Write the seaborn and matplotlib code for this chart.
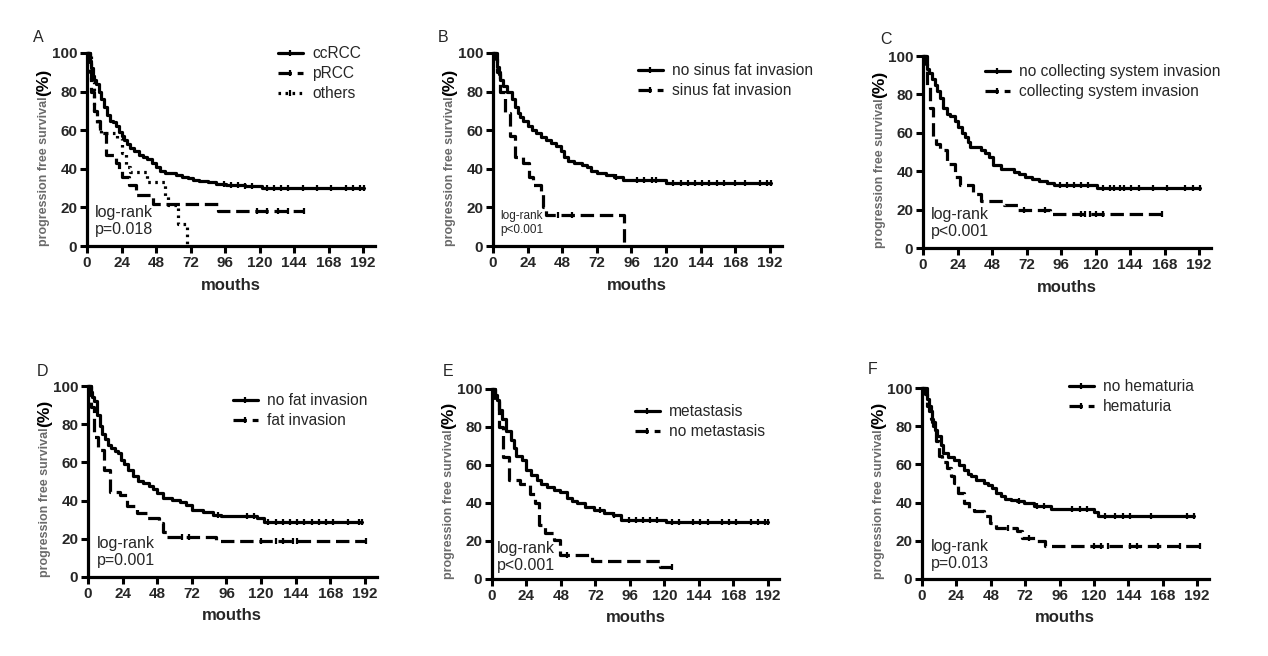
import numpy as np
import pandas as pd
import seaborn as sns
import matplotlib
matplotlib.use("Agg")
import matplotlib.pyplot as plt
from matplotlib.lines import Line2D

# Kaplan-Meier steps: time (months) where the curve drops, and the new value (%)
# panel A - histology
a_cc_t = [0, 2, 3, 4, 5, 6, 8, 10, 12, 14, 16, 18, 20, 22, 24, 26, 28, 30, 33, 36, 39, 42, 45, 48, 51, 54, 62, 66, 70, 74, 78, 84, 90, 97, 110, 122]
a_cc_s = [100, 96, 92, 88, 86, 84, 80, 76, 72, 68, 65, 64, 62, 59, 57, 55, 53, 51, 49, 47, 46, 45, 43, 41, 39, 38, 37, 36, 35, 34, 33.5, 33, 32, 31.5, 31, 30]
a_cc_end = 193
a_cc_cens = [95, 100, 105, 110, 115, 125, 130, 135, 140, 150, 160, 170, 180, 185, 190, 193]
a_p_t = [0, 2, 3, 5, 7, 9, 13, 20, 22, 24, 29, 34, 46, 91]
a_p_s = [100, 90, 80, 70, 65, 58.5, 47, 43, 40, 36, 31.5, 26.5, 22, 18]
a_p_end = 151
a_p_cens = [118, 125, 133, 140, 151]
a_o_t = [0, 3, 5, 7, 10, 21, 24, 27, 30, 42, 54, 56, 63, 69.5]
a_o_s = [100, 85, 70, 62, 58.5, 56, 48, 41, 38.5, 33, 26, 21, 11.5, 0]
a_o_end = 69.5
a_o_cens = []

# panel B - sinus fat invasion
b_no_t = [0, 2, 3, 4, 5, 7, 10, 13, 15, 17, 19, 21, 24, 27, 30, 33, 37, 40, 44, 47, 49, 52, 56, 62, 65, 68, 72, 78, 84, 90, 120]
b_no_s = [100, 97, 93, 89, 86, 83, 80, 76, 72, 69, 67, 65, 62, 60, 58.5, 56.5, 55, 53.5, 51.6, 49, 46, 44, 43, 42, 41, 39, 37.7, 37, 36, 34.3, 32.5]
b_no_end = 193
b_no_cens = [85, 100, 105, 110, 113, 125, 130, 135, 140, 145, 150, 155, 160, 168, 175, 185, 190, 193]
b_yes_t = [0, 3, 5, 8, 12, 15, 21, 25, 28, 33, 35, 37, 91]
b_yes_s = [100, 90, 80, 69, 57, 46, 43, 36, 31.7, 27, 20, 16, 0]
b_yes_end = 91
b_yes_cens = [45, 55]

# panel C - collecting system invasion
c_no_t = [0, 2, 3, 4, 6, 8, 10, 12, 14, 17, 19, 22, 24, 27, 29, 31, 33, 40, 43, 46, 49, 54, 63, 67, 71, 76, 81, 86, 91, 121]
c_no_s = [100, 96, 93, 91, 88, 85, 82, 78, 73, 70, 69, 66, 63, 60, 58, 55, 52.6, 51, 49.5, 47.4, 43, 41.3, 39.6, 38.5, 37, 36, 35, 34, 33, 31]
c_no_end = 192.5
c_no_cens = [95, 100, 105, 110, 115, 125, 130, 133, 137, 140, 145, 150, 160, 170, 182, 188, 192.5]
c_yes_t = [0, 3, 5, 7, 9, 12, 17, 22, 26, 35, 40, 56, 66, 88]
c_yes_s = [100, 84, 73, 58, 54, 51, 44, 37, 32.6, 28, 24.3, 22.2, 19.6, 17.9]
c_yes_end = 166
c_yes_cens = [70, 85, 110, 113, 116, 120, 125, 166]

# panel D - fat invasion
d_no_t = [0, 2, 3, 4, 6, 8, 10, 12, 14, 16, 19, 21, 23, 25, 28, 31, 35, 38, 42, 45, 48, 52, 58, 64, 68, 72, 80, 87, 92, 117, 122]
d_no_s = [100, 97, 94, 92, 85, 79, 75, 72, 69, 67.5, 66, 64.7, 61, 59, 56, 53, 50.5, 49, 47.5, 46, 43.8, 41.2, 40.5, 39.5, 37.5, 35, 34, 32.5, 31.7, 30.8, 29]
d_no_end = 190
d_no_cens = [90, 110, 115, 125, 130, 135, 140, 145, 150, 155, 160, 165, 170, 180, 188, 190]
d_yes_t = [0, 2, 4, 7, 11, 15, 22, 27, 34, 41, 49, 52, 55, 89]
d_yes_s = [100, 89, 73.4, 66.4, 56, 44.7, 43, 37, 33.4, 30.8, 28.2, 23.8, 21, 18.6]
d_yes_end = 193
d_yes_cens = [65, 70, 120, 130, 135, 142, 145, 193]

# panel E - metastasis
e_m_t = [0, 2, 3.5, 5, 7, 10, 13, 15, 17, 21, 24, 27, 31, 34, 38, 43, 47, 52, 56, 59, 65, 71, 78, 84, 90, 121]
e_m_s = [100, 97, 94, 89, 84, 78, 73, 69, 65, 62.6, 57.4, 54.5, 52, 50, 48.6, 47, 46, 42.5, 41, 39.8, 38, 36.3, 35, 33.7, 31, 30.2]
e_m_end = 192
e_m_cens = [75, 85, 95, 100, 105, 110, 115, 125, 130, 140, 145, 150, 160, 165, 170, 180, 185, 190, 192]
e_nm_t = [0, 2.3, 4.6, 8, 11.6, 19.7, 26.6, 30, 32.4, 37, 42.8, 47.4, 69.4, 117]
e_nm_s = [100, 94, 80, 64.4, 52, 50, 45, 39.8, 28.4, 24, 20.5, 12.6, 9.6, 6.5]
e_nm_end = 125
e_nm_cens = [52, 125]

# panel F - hematuria
f_no_t = [0, 2, 3.5, 5, 7, 9, 10.4, 13, 15, 18, 22, 26, 29, 32, 34, 38, 43, 46, 49, 52, 55, 58, 62, 66, 71, 78, 90, 120, 123]
f_no_s = [100, 97, 94, 88, 82, 78, 74.7, 70, 66, 64, 62.5, 59.5, 57.2, 55, 53.8, 52, 50.3, 49, 47.6, 45, 43.3, 42, 41.5, 41, 39.8, 38, 36.6, 34.9, 33.2]
f_no_end = 190
f_no_cens = [68, 80, 85, 105, 110, 115, 128, 135, 140, 145, 160, 185, 190]
f_yes_t = [0, 3.5, 6, 8, 10, 11.6, 14, 17.4, 20, 22, 25, 29, 33, 36, 43, 47.6, 52, 66, 69.7, 80, 86]
f_yes_s = [100, 90.4, 84, 80, 72, 64.2, 61, 58, 54, 50.3, 45, 39.8, 37, 35.4, 32.8, 29.3, 26.7, 25, 21.5, 19.7, 17.5]
f_yes_end = 194
f_yes_cens = [60, 75, 120, 125, 130, 145, 150, 165, 180, 194]

x_ticks = [0, 24, 48, 72, 96, 120, 144, 168, 192]
y_ticks = [0, 20, 40, 60, 80, 100]

SOLID = "-"
DASH = (0, (4.2, 1.8))
DOT = (0, (0.8, 1.4))

# axes boxes in pixels: left, top(y=100), width (to 200 months), height
panels = [
    dict(letter="A", lpos=(33, 38), box=(87, 53, 287.5, 193),
         curves=[(a_cc_t, a_cc_s, a_cc_end, a_cc_cens, SOLID, "ccRCC"),
                 (a_p_t, a_p_s, a_p_end, a_p_cens, DASH, "pRCC"),
                 (a_o_t, a_o_s, a_o_end, a_o_cens, DOT, "others")],
         leg=(278, 46), stat="log-rank\np=0.018", spos=(95, 221), sfs=11.5),
    dict(letter="B", lpos=(438, 38), box=(493, 53, 288.5, 193),
         curves=[(b_no_t, b_no_s, b_no_end, b_no_cens, SOLID, "no sinus fat invasion"),
                 (b_yes_t, b_yes_s, b_yes_end, b_yes_cens, DASH, "sinus fat invasion")],
         leg=(638, 63), stat="log-rank\np<0.001", spos=(500, 223), sfs=8.5),
    dict(letter="C", lpos=(880, 40), box=(923, 56, 287.5, 192),
         curves=[(c_no_t, c_no_s, c_no_end, c_no_cens, SOLID, "no collecting system invasion"),
                 (c_yes_t, c_yes_s, c_yes_end, c_yes_cens, DASH, "collecting system invasion")],
         leg=(985, 64), stat="log-rank\np<0.001", spos=(931, 223), sfs=11.5),
    dict(letter="D", lpos=(37, 372), box=(88, 386, 288.5, 191),
         curves=[(d_no_t, d_no_s, d_no_end, d_no_cens, SOLID, "no fat invasion"),
                 (d_yes_t, d_yes_s, d_yes_end, d_yes_cens, DASH, "fat invasion")],
         leg=(233, 393), stat="log-rank\np=0.001", spos=(97, 552), sfs=11.5),
    dict(letter="E", lpos=(443, 372), box=(492, 389, 287.5, 190),
         curves=[(e_m_t, e_m_s, e_m_end, e_m_cens, SOLID, "metastasis"),
                 (e_nm_t, e_nm_s, e_nm_end, e_nm_cens, DASH, "no metastasis")],
         leg=(635, 404), stat="log-rank\np<0.001", spos=(497, 557), sfs=11.5),
    dict(letter="F", lpos=(868, 370), box=(922, 388, 286.5, 191),
         curves=[(f_no_t, f_no_s, f_no_end, f_no_cens, SOLID, "no hematuria"),
                 (f_yes_t, f_yes_s, f_yes_end, f_yes_cens, DASH, "hematuria")],
         leg=(1069, 379), stat="log-rank\np=0.013", spos=(931, 555), sfs=11.5),
]

sns.set_style("ticks")
plt.rcParams["font.family"] = ["Liberation Sans", "DejaVu Sans"]

W, H = 1268, 656
fig = plt.figure(figsize=(W / 100, H / 100), dpi=100)

def fx(x):
    return x / W

def fy(y):
    return 1 - y / H

LW = 2.3

for p in panels:
    left, top, w, h = p["box"]
    ax = fig.add_axes([fx(left), fy(top + h), w / W, h / H])
    handles = []
    for ts, ss, end, cens, ls, lab in p["curves"]:
        df = pd.DataFrame({"t": list(ts) + [end], "s": list(ss) + [ss[-1]]})
        sns.lineplot(data=df, x="t", y="s", ax=ax, drawstyle="steps-post", estimator=None,
                     sort=False, color="black", lw=LW, linestyle=ls, clip_on=False)
        if cens:
            idx = np.searchsorted(ts, cens, side="right") - 1
            cy = np.array(ss)[idx]
            ax.plot(cens, cy, linestyle="none", marker="|", markersize=5, mew=1.6,
                    color="black", clip_on=False)
        handles.append(Line2D([], [], color="black", lw=LW, linestyle=ls, marker="|",
                              markersize=5, mew=1.6, label=lab))

    ax.set_xlim(0, 200)
    ax.set_ylim(0, 100)
    ax.set_xticks(x_ticks)
    ax.set_yticks(y_ticks)
    ax.tick_params(direction="out", length=5, width=2.2, labelsize=11, pad=2, color="black")
    for lbl in ax.get_xticklabels() + ax.get_yticklabels():
        lbl.set_fontweight("bold")
    sns.despine(ax=ax)
    for sp in ["left", "bottom"]:
        ax.spines[sp].set_linewidth(2.3)
        ax.spines[sp].set_color("black")

    ax.set_xlabel("mouths", fontsize=12, fontweight="bold")
    ax.xaxis.label.set_va("center")
    ax.xaxis.set_label_coords(0.5, -39 / h)
    ax.set_ylabel("")
    t1 = ax.text(-43 / w, 0, "progression free survival", rotation=90, transform=ax.transAxes,
                 ha="center", va="bottom", color="#6a6a6a", fontsize=9, fontweight="bold")
    ax.annotate("(%)", xy=(0.5, 1), xycoords=t1, ha="center", va="bottom", rotation=90,
                fontsize=12.5, fontweight="bold", color="black")

    lx, ly = p["leg"]
    ax.legend(handles=handles, loc="upper left", bbox_to_anchor=(fx(lx), fy(ly)),
              bbox_transform=fig.transFigure, frameon=False, fontsize=11.2, borderpad=0,
              borderaxespad=0, handlelength=1.6, handletextpad=0.6, labelspacing=0.32)

    fig.text(fx(p["lpos"][0]), fy(p["lpos"][1]), p["letter"], ha="left", va="center", fontsize=11.5)
    fig.text(fx(p["spos"][0]), fy(p["spos"][1]), p["stat"], ha="left", va="center",
             fontsize=p["sfs"], linespacing=1.15)

fig.savefig("out.png", dpi=100)
